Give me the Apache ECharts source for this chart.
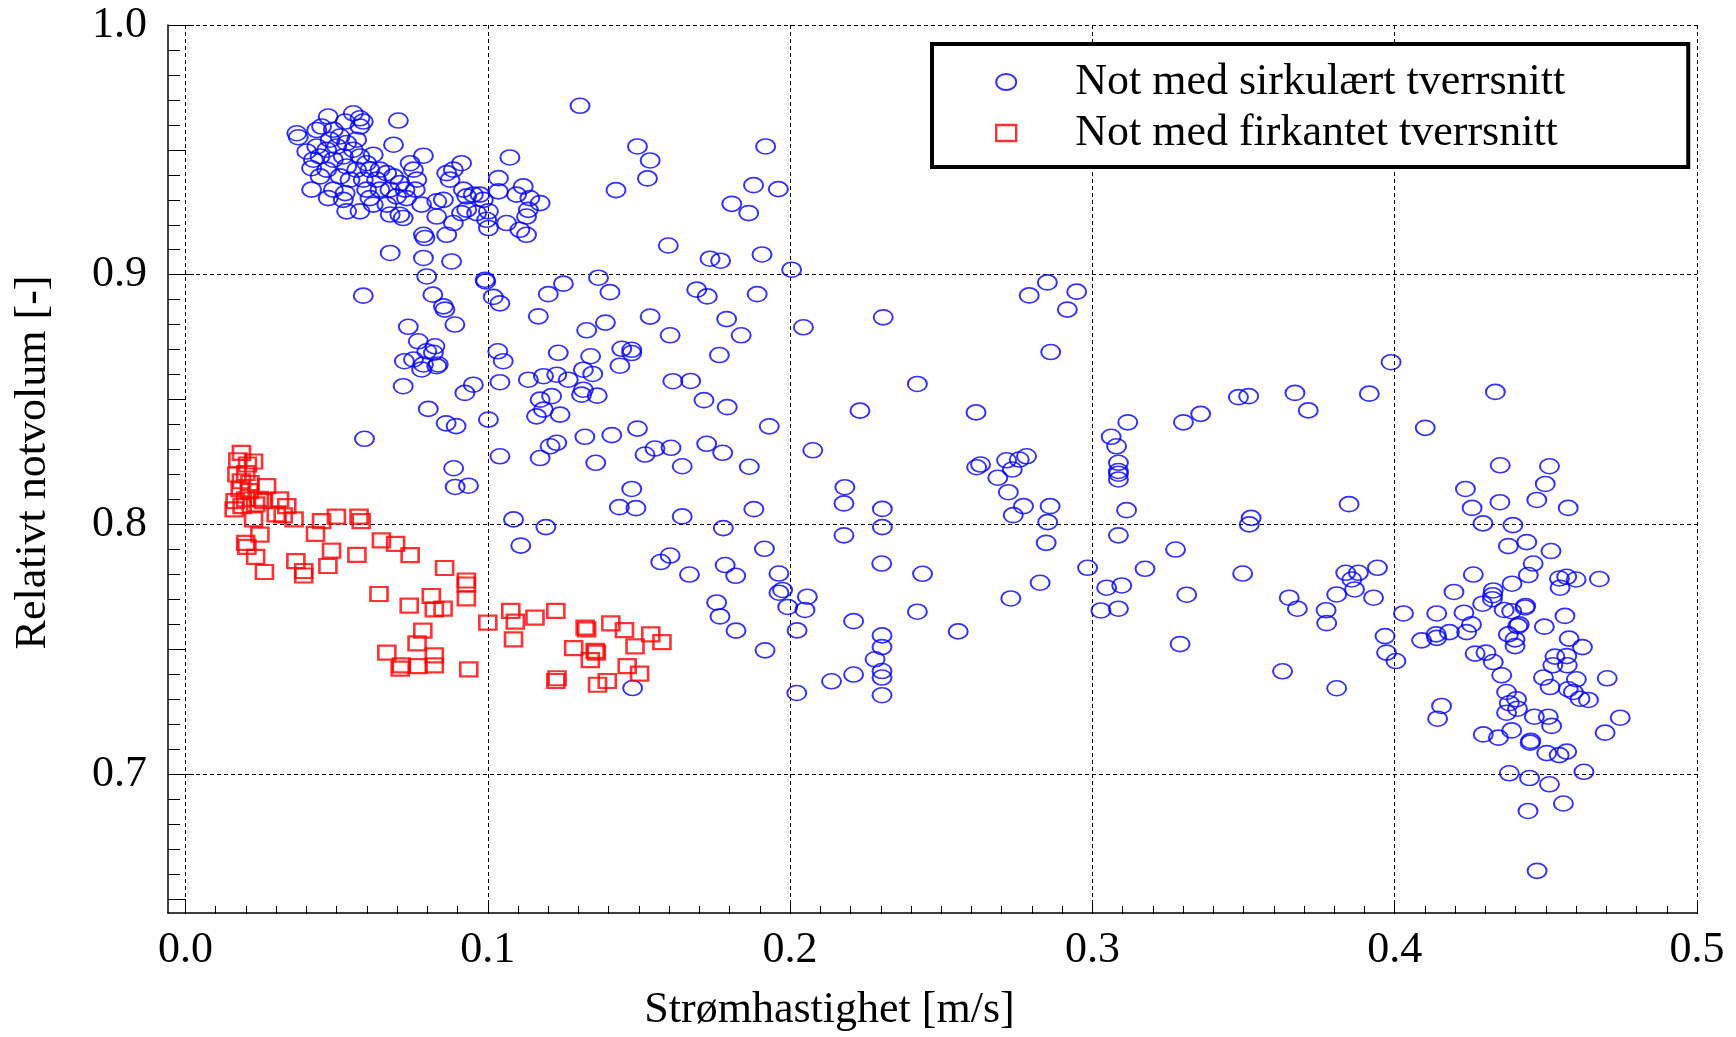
<!DOCTYPE html>
<html>
<head>
<meta charset="utf-8">
<title>Relativt notvolum</title>
<script src="https://cdn.jsdelivr.net/npm/echarts@6/dist/echarts.min.js"></script>
<style>
html, body { margin: 0; padding: 0; background: #fff; }
#chart { width: 1736px; height: 1037px; }
</style>
</head>
<body>
<div id="chart"></div>
<script>
// series names (legend)
var seriesNames = ['Not med sirkulært tverrsnitt', 'Not med firkantet tverrsnitt'];

// [stromhastighet m/s, relativt notvolum] - sirkular not
var sirkulaer = [
    [0.0368,0.9566],[0.0373,0.9550],[0.0472,0.9633],[0.0555,0.9646],[0.0577,0.9626],[0.0588,0.9613],[0.0434,0.9579],[0.0450,0.9593],
    [0.0401,0.9493],[0.0423,0.9460],[0.0417,0.9426],[0.0445,0.9393],[0.0417,0.9340],[0.0472,0.9306],[0.0522,0.9299],[0.0528,0.9326],
    [0.0489,0.9340],[0.0533,0.9253],[0.0577,0.9253],[0.0621,0.9480],[0.0688,0.9520],[0.0704,0.9617],[0.0787,0.9476],[0.0743,0.9446],
    [0.0754,0.9420],[0.0765,0.9380],[0.0760,0.9340],[0.0731,0.9306],[0.0610,0.9306],[0.0621,0.9280],[0.0666,0.9280],[0.0677,0.9240],
    [0.0709,0.9239],[0.0720,0.9226],[0.0781,0.9280],[0.0831,0.9293],[0.0853,0.9299],[0.0864,0.9406],[0.0875,0.9380],[0.0886,0.9420],
    [0.0913,0.9446],[0.0919,0.9340],[0.0930,0.9313],[0.0952,0.9320],[0.0974,0.9320],[0.0985,0.9299],[0.0913,0.9246],[0.0930,0.9260],
    [0.0963,0.9246],[0.1002,0.9253],[0.1035,0.9386],[0.1035,0.9333],[0.0996,0.9219],[0.1002,0.9186],[0.1073,0.9469],[0.1062,0.9206],
    [0.1095,0.9320],[0.1117,0.9353],[0.1139,0.9306],[0.1173,0.9286],[0.1134,0.9259],[0.1106,0.9179],[0.1128,0.9159],[0.1128,0.9232],
    [0.0864,0.9159],[0.0787,0.9159],[0.0792,0.9146],[0.0831,0.9232],[0.0886,0.9206],[0.0677,0.9086],[0.0787,0.9066],[0.0880,0.9052],
    [0.0798,0.8992],[0.0991,0.8979],[0.0993,0.8972],[0.1018,0.8910],[0.1040,0.8884],[0.1167,0.8832],[0.1200,0.8921],[0.1250,0.8963],
    [0.0588,0.8915],[0.0818,0.8919],[0.0853,0.8872],[0.0858,0.8859],[0.0891,0.8799],[0.0737,0.8790],[0.0770,0.8732],[0.0798,0.8692],
    [0.0825,0.8712],[0.0831,0.8632],[0.0836,0.8639],[0.0820,0.8686],[0.0724,0.8652],[0.0754,0.8659],[0.0781,0.8619],[0.0787,0.8639],
    [0.0720,0.8552],[0.1033,0.8692],[0.1051,0.8652],[0.1040,0.8568],[0.0952,0.8558],[0.0924,0.8525],[0.0803,0.8461],[0.0862,0.8403],
    [0.0895,0.8392],[0.1002,0.8418],[0.0592,0.8341],[0.1233,0.8686],[0.1134,0.8578],[0.1184,0.8592],[0.1228,0.8598],[0.1266,0.8578],
    [0.1173,0.8498],[0.1211,0.8512],[0.1184,0.8458],[0.1239,0.8438],[0.1161,0.8431],[0.1206,0.8311],[0.1228,0.8325],[0.1173,0.8264],
    [0.1040,0.8271],
    [0.0489,0.9580],[0.0511,0.9553],[0.0533,0.9527],[0.0500,0.9513],[0.0467,0.9500],[0.0445,0.9473],[0.0489,0.9460],[0.0522,0.9473],
    [0.0555,0.9500],[0.0577,0.9473],[0.0599,0.9446],[0.0533,0.9433],[0.0566,0.9420],[0.0610,0.9420],[0.0643,0.9420],[0.0665,0.9406],
    [0.0688,0.9393],[0.0632,0.9380],[0.0588,0.9380],[0.0544,0.9380],[0.0511,0.9393],[0.0467,0.9420],[0.0599,0.9340],[0.0676,0.9340],
    [0.0698,0.9313],[0.0709,0.9366],[0.0726,0.9340],[0.0643,0.9340],[0.0577,0.9593],[0.0528,0.9613],[0.0566,0.9540],[0.0478,0.9540],
    [0.0434,0.9513],
    [0.1305,0.9676],[0.1495,0.9513],[0.1537,0.9457],[0.1528,0.9385],[0.1424,0.9338],[0.1919,0.9513],[0.1879,0.9358],[0.1961,0.9342],
    [0.1807,0.9283],[0.1863,0.9246],[0.1597,0.9116],[0.1735,0.9063],[0.1770,0.9055],[0.1907,0.9080],[0.2005,0.9019],[0.1366,0.8987],
    [0.1404,0.8929],[0.1691,0.8939],[0.1726,0.8912],[0.1891,0.8921],[0.1537,0.8831],[0.1389,0.8807],[0.1327,0.8776],[0.1790,0.8821],
    [0.1838,0.8756],[0.1603,0.8756],[0.2044,0.8788],[0.2308,0.8828],[0.1766,0.8677],[0.1340,0.8672],[0.1443,0.8702],[0.1476,0.8698],
    [0.1476,0.8685],[0.1437,0.8634],[0.1316,0.8618],[0.1347,0.8601],[0.1316,0.8538],[0.1362,0.8514],[0.1310,0.8518],[0.1612,0.8572],
    [0.1671,0.8573],[0.1715,0.8496],[0.1792,0.8468],[0.1931,0.8391],[0.2231,0.8454],[0.2421,0.8561],[0.2075,0.8295],[0.1321,0.8349],
    [0.1410,0.8356],[0.1495,0.8382],[0.1553,0.8302],[0.1606,0.8305],[0.1724,0.8321],[0.1777,0.8285],[0.1520,0.8278],
    [0.1357,0.8245],[0.1643,0.8231],[0.1865,0.8229],[0.1476,0.8140],[0.1435,0.8067],[0.1490,0.8063],[0.1643,0.8030],[0.1880,0.8059],
    [0.1779,0.7983],[0.2181,0.8147],[0.2178,0.8082],[0.2305,0.8060],[0.2305,0.7987],[0.2178,0.7954],[0.1572,0.7847],[0.1603,0.7873],
    [0.1667,0.7797],[0.1915,0.7900],[0.1785,0.7835],[0.1820,0.7792],[0.1963,0.7801],[0.2303,0.7841],[0.2438,0.7800],[0.1757,0.7685],
    [0.1768,0.7629],[0.1963,0.7724],[0.1975,0.7735],[0.2057,0.7708],[0.1992,0.7667],[0.2049,0.7655],[0.1821,0.7572],[0.2023,0.7573],
    [0.2421,0.7648],[0.2556,0.7569],[0.2210,0.7610],[0.2304,0.7553],[0.2304,0.7506],[0.2281,0.7457],[0.2210,0.7396],[0.2137,0.7369],
    [0.2304,0.7410],[0.2304,0.7384],[0.2304,0.7313],[0.2022,0.7322],[0.1917,0.7493],[0.1479,0.7342],
    [0.0887,0.8223],[0.0892,0.8148],[0.0936,0.8153],[0.1085,0.8018],[0.1192,0.7987],[0.1109,0.7913],
    [0.2851,0.8968],[0.2791,0.8916],[0.2948,0.8931],[0.2917,0.8859],[0.2862,0.8689],[0.2615,0.8447],[0.3117,0.8407],[0.3062,0.8349],
    [0.3080,0.8311],[0.3086,0.8245],[0.3086,0.8212],[0.3086,0.8201],[0.3086,0.8178],[0.3301,0.8407],[0.3358,0.8441],[0.3483,0.8508],
    [0.3517,0.8512],[0.3670,0.8525],[0.3714,0.8455],[0.3916,0.8522],[0.2630,0.8238],[0.2617,0.8227],[0.2716,0.8255],[0.2758,0.8258],
    [0.2782,0.8271],[0.2735,0.8218],[0.2687,0.8185],[0.2722,0.8127],
    [0.2772,0.8071],[0.2738,0.8035],[0.2860,0.8071],[0.2852,0.8007],[0.2847,0.7924],[0.3113,0.8055],[0.3086,0.7954],[0.3275,0.7897],
    [0.2984,0.7824],[0.2827,0.7764],[0.2730,0.7701],[0.3047,0.7744],[0.3097,0.7753],[0.3028,0.7653],[0.3086,0.7660],[0.3174,0.7820],
    [0.3312,0.7716],[0.3290,0.7518],[0.3525,0.8024],[0.3519,0.7998],[0.3497,0.7801],[0.3849,0.8079],[0.3651,0.7704],[0.3678,0.7660],
    [0.3773,0.7654],[0.3775,0.7602],[0.3808,0.7717],[0.3838,0.7804],[0.3858,0.7777],[0.3880,0.7804],[0.3867,0.7737],[0.3930,0.7704],
    [0.3943,0.7824],[0.3629,0.7409],[0.3808,0.7341],
    [0.3988,0.8648],[0.4333,0.8529],[0.4101,0.8385],[0.4349,0.8235],[0.4512,0.8231],[0.4498,0.8160],[0.4234,0.8140],[0.4348,0.8087],
    [0.4470,0.8096],[0.4574,0.8064],[0.4256,0.8064],[0.4292,0.8002],[0.4391,0.7995],[0.4376,0.7911],[0.4437,0.7927],[0.4517,0.7891],
    [0.4458,0.7841],[0.4442,0.7795],[0.4388,0.7760],[0.4260,0.7797],[0.4545,0.7781],[0.4569,0.7788],[0.4600,0.7777],[0.4547,0.7744],
    [0.4677,0.7779],[0.4196,0.7727],[0.4326,0.7733],[0.4324,0.7714],[0.4323,0.7698],[0.4291,0.7680],[0.4362,0.7655],[0.4433,0.7671],
    [0.4431,0.7665],[0.4229,0.7644],[0.4139,0.7641],[0.4029,0.7641],[0.4387,0.7650],[0.4563,0.7631],[0.4254,0.7597],[0.4412,0.7597],
    [0.4407,0.7590],[0.4495,0.7588],[0.3968,0.7550],
    [0.3973,0.7484],[0.4004,0.7450],[0.4089,0.7533],[0.4137,0.7557],[0.4139,0.7543],[0.4181,0.7566],[0.4238,0.7566],[0.4376,0.7557],
    [0.4398,0.7537],[0.4398,0.7510],[0.4577,0.7540],[0.4621,0.7506],[0.4530,0.7468],[0.4569,0.7470],[0.4523,0.7433],[0.4571,0.7433],
    [0.4266,0.7480],[0.4302,0.7484],[0.4326,0.7446],[0.4354,0.7393],[0.4492,0.7384],[0.4514,0.7346],[0.4601,0.7377],[0.4703,0.7381],
    [0.4574,0.7337],[0.4591,0.7326],[0.4613,0.7299],[0.4641,0.7294],[0.4370,0.7326],[0.4403,0.7297],[0.4379,0.7281],[0.4370,0.7243],
    [0.4406,0.7259],[0.4155,0.7270],[0.4142,0.7219],[0.4462,0.7227],[0.4508,0.7227],[0.4519,0.7190],[0.4746,0.7223],[0.4696,0.7163],
    [0.4293,0.7156],[0.4343,0.7143],[0.4387,0.7172],[0.4448,0.7123],[0.4450,0.7130],[0.4503,0.7081],[0.4544,0.7073],[0.4569,0.7087],
    [0.4379,0.7000],[0.4446,0.6981],[0.4512,0.6956],[0.4626,0.7006],[0.4558,0.6879],[0.4441,0.6849],[0.4471,0.6609]
];

// [stromhastighet m/s, relativt notvolum] - firkantet not
var firkantet = [
    [0.0185,0.8285],[0.0173,0.8255],[0.0225,0.8250],[0.0205,0.8238],[0.0170,0.8198],[0.0199,0.8204],[0.0185,0.8171],[0.0213,0.8164],
    [0.0268,0.8151],[0.0181,0.8138],[0.0211,0.8131],[0.0164,0.8091],[0.0199,0.8098],[0.0244,0.8100],[0.0258,0.8091],[0.0311,0.8098],
    [0.0161,0.8058],[0.0187,0.8071],[0.0232,0.8078],[0.0335,0.8071],[0.0300,0.8038],[0.0323,0.8034],[0.0225,0.8018],[0.0359,0.8018],
    [0.0450,0.8011],[0.0499,0.8029],[0.0574,0.8029],[0.0581,0.8011],[0.0430,0.7960],[0.0246,0.7957],[0.0199,0.7924],[0.0203,0.7908],
    [0.0232,0.7868],[0.0261,0.7807],[0.0365,0.7851],[0.0391,0.7811],[0.0391,0.7793],[0.0483,0.7893],[0.0471,0.7831],[0.0567,0.7876],
    [0.0648,0.7934],[0.0695,0.7920],[0.0743,0.7875],[0.0857,0.7823],[0.0929,0.7773],[0.0929,0.7757],[0.0929,0.7701],[0.0640,0.7719],
    [0.0740,0.7672],[0.0813,0.7711],[0.0823,0.7657],[0.0852,0.7660],[0.0785,0.7572],[0.0766,0.7521],[0.0666,0.7484],[0.0823,0.7473],
    [0.0714,0.7433],[0.0710,0.7420],[0.0769,0.7430],[0.0823,0.7433],[0.0937,0.7417],[0.1000,0.7604],[0.1076,0.7651],[0.1091,0.7608],
    [0.1085,0.7537],[0.1156,0.7624],[0.1225,0.7651],[0.1322,0.7584],[0.1327,0.7577],[0.1407,0.7601],[0.1452,0.7574],[0.1539,0.7557],
    [0.1576,0.7526],[0.1284,0.7502],[0.1355,0.7491],[0.1359,0.7484],[0.1487,0.7509],[0.1339,0.7454],[0.1461,0.7430],[0.1502,0.7400],
    [0.1229,0.7381],[0.1225,0.7370],[0.1395,0.7370],[0.1363,0.7355]
];

var font = '"Liberation Serif", "Times New Roman", serif';
var ellipse = 'path://M0,50A50,50 0 1,1 100,50A50,50 0 1,1 0,50Z';
var dash = [4, 3];
var black = '#000';
var fmt1 = function (v) { return v.toFixed(1); };

var dom = document.getElementById('chart');
var myChart = echarts.init(dom, null, { renderer: 'canvas' });

var option = {
    animation: false,
    backgroundColor: '#fff',
    textStyle: { fontFamily: font },
    // 0: data, 1: x ticks (from 0.0), 2: y ticks every 0.05 (from 0.65), 3: y labels every 0.1 (from 0.7)
    grid: [
        { left: 168, right: 39, top: 25, bottom: 123 },
        { left: 185.5, right: 39, top: 25, bottom: 123 },
        { left: 168, right: 39, top: 25, bottom: 138 },
        { left: 168, right: 39, top: 25, bottom: 263 }
    ],
    xAxis: [{
            gridIndex: 0, type: 'value', min: -0.0058, max: 0.5,
            axisLine: { show: true, onZero: false, lineStyle: { color: black, width: 1.5 } },
            axisTick: { show: false }, axisLabel: { show: false }, splitLine: { show: false },
            name: 'Strømhastighet [m/s]', nameLocation: 'middle', nameGap: 75,
            nameTextStyle: { fontFamily: font, fontSize: 44, color: black, lineHeight: 44, padding: [0, 206, 0, 0] }
        },
        {
            gridIndex: 1, type: 'value', min: 0, max: 0.5, interval: 0.1,
            axisLine: { show: false, onZero: false },
            axisTick: { show: true, inside: true, length: 12, lineStyle: { color: black, width: 1 } },
            minorTick: { show: true, splitNumber: 10, length: 8, lineStyle: { color: black, width: 1 } },
            axisLabel: { margin: 14, fontFamily: font, fontSize: 44, color: black, lineHeight: 44, formatter: fmt1 },
            splitLine: { show: true, lineStyle: { color: black, width: 1, type: dash } }
        },
        { gridIndex: 2, type: 'value', show: false, min: 0, max: 1 },
        { gridIndex: 3, type: 'value', show: false, min: 0, max: 1 }
    ],
    yAxis: [{
            gridIndex: 0, type: 'value', min: 0.644, max: 1,
            axisLine: { show: true, onZero: false, lineStyle: { color: black, width: 1.5 } },
            axisTick: { show: false }, axisLabel: { show: false }, splitLine: { show: false },
            name: 'Relativt notvolum [-]', nameLocation: 'middle', nameRotate: 90, nameGap: 113,
            nameTextStyle: { fontFamily: font, fontSize: 44, color: black, lineHeight: 44, padding: [0, 0, 0, 13] }
        },
        { gridIndex: 1, type: 'value', show: false, min: 0, max: 1 },
        {
            gridIndex: 2, type: 'value', min: 0.65, max: 1, interval: 0.05,
            axisLine: { show: false, onZero: false },
            axisTick: { show: true, inside: true, length: 18, lineStyle: { color: black, width: 1 } },
            minorTick: { show: true, splitNumber: 5, length: 12, lineStyle: { color: black, width: 1 } },
            axisLabel: { show: false }, splitLine: { show: false }
        },
        {
            gridIndex: 3, type: 'value', min: 0.7, max: 1, interval: 0.1,
            axisLine: { show: false, onZero: false },
            axisTick: { show: true, inside: true, length: 26, lineStyle: { color: black, width: 1 } },
            axisLabel: { margin: 21, fontFamily: font, fontSize: 44, color: black, formatter: fmt1 },
            splitLine: { show: true, lineStyle: { color: black, width: 1, type: dash } }
        }
    ],
    legend: {
        left: 932, top: 44, orient: 'vertical',
        padding: [16, 123, 12, 63],
        itemGap: 7, itemWidth: 20, itemHeight: 16,
        symbolKeepAspect: false,
        selectedMode: false,
        backgroundColor: '#fff', borderColor: black, borderWidth: 4,
        textStyle: { fontFamily: font, fontSize: 44, color: black, lineHeight: 44, padding: [0, 0, 0, 54] },
        data: [
            { name: seriesNames[0], icon: ellipse, itemStyle: { color: 'rgba(0,0,0,0)', borderColor: '#0000ff', borderWidth: 2 } },
            { name: seriesNames[1], icon: 'rect', itemStyle: { color: 'rgba(0,0,0,0)', borderColor: '#ff0000', borderWidth: 2.4 } }
        ]
    },
    series: [{
            name: seriesNames[0], type: 'scatter', xAxisIndex: 0, yAxisIndex: 0,
            data: sirkulaer, symbol: ellipse, symbolSize: [19, 15], symbolKeepAspect: false,
            itemStyle: { color: 'rgba(0,0,0,0)', borderColor: '#0000ff', borderWidth: 1.8 },
            silent: true
        },
        {
            name: seriesNames[1], type: 'scatter', xAxisIndex: 0, yAxisIndex: 0,
            data: firkantet, symbol: 'rect', symbolSize: [17, 14],
            itemStyle: { color: 'rgba(0,0,0,0)', borderColor: '#ff0000', borderWidth: 2.4 },
            silent: true
        }
    ]
};

if (option && typeof option === "object") {
    myChart.setOption(option, true);
}
</script>
</body>
</html>
